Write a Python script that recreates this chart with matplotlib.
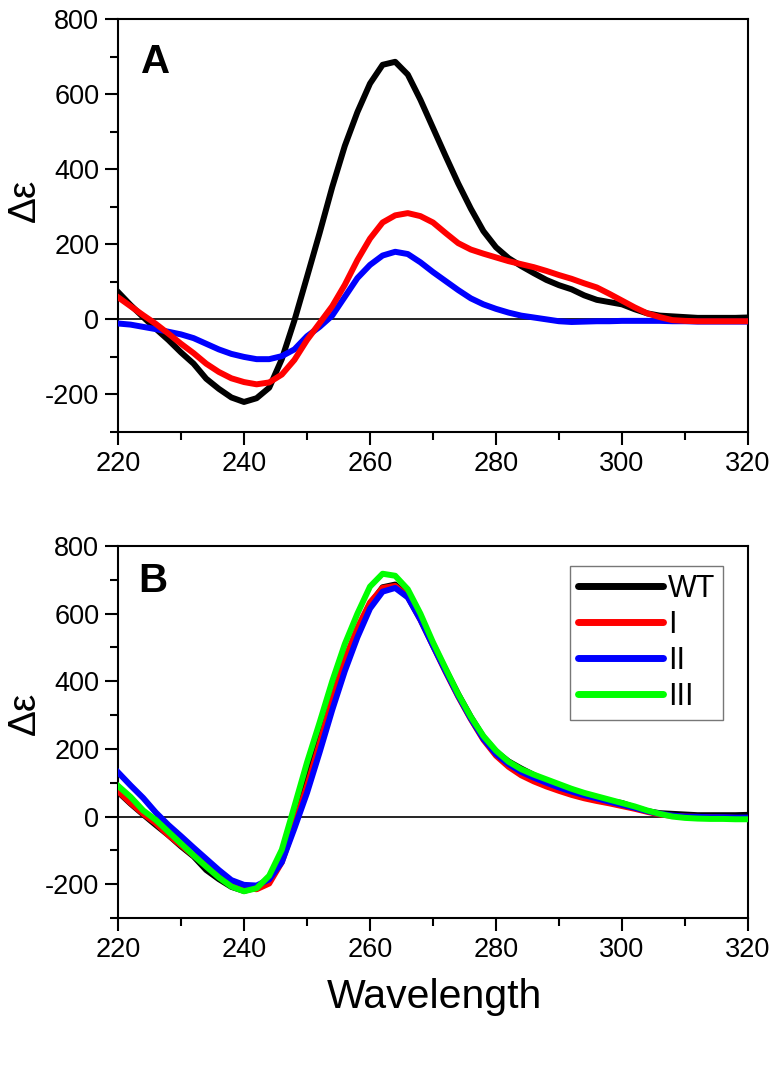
import matplotlib
matplotlib.use("Agg")
import matplotlib.pyplot as plt
from matplotlib.ticker import MultipleLocator

plt.rcParams['font.family'] = ['Liberation Sans', 'DejaVu Sans']
plt.rcParams['axes.unicode_minus'] = False

wavelength = list(range(220, 322, 2))

wt = [73, 38, 6, -25, -55, -88, -118, -158, -185, -208,
      -220, -210, -182, -106, -3, 113, 230, 352, 462, 552,
      628, 678, 686, 652, 585, 510, 435, 362, 295, 235,
      192, 163, 142, 123, 105, 91, 80, 64, 52, 46,
      40, 27, 16, 10, 8, 6, 4, 4, 4, 4, 5]

mut_I_A = [59, 35, 11, -12, -38, -65, -90, -118, -140, -157,
           -167, -173, -168, -147, -108, -55, -10, 35, 92, 158,
           215, 258, 277, 283, 275, 258, 230, 203, 186, 175,
           165, 155, 147, 139, 129, 118, 108, 96, 85, 68,
           50, 32, 16, 6, -2, -4, -5, -5, -5, -5, -5]

mut_II_A = [-11, -14, -20, -26, -33, -40, -50, -65, -80, -92,
            -100, -106, -106, -98, -80, -45, -20, 10, 60, 110,
            145, 170, 180, 174, 152, 126, 102, 78, 56, 40,
            28, 18, 10, 5, 0, -5, -7, -6, -5, -5,
            -4, -4, -4, -4, -5, -5, -6, -6, -6, -6, -6]

mut_I_B = [75, 40, 8, -20, -55, -85, -115, -145, -172, -198,
           -210, -215, -198, -135, -25, 90, 215, 345, 462, 558,
           633, 676, 682, 650, 582, 505, 428, 355, 288, 227,
           180, 147, 122, 104, 89, 76, 64, 54, 46, 39,
           31, 23, 14, 6, 2, 0, -1, -2, -3, -4, -5]

mut_II_B = [131, 92, 55, 12, -25, -58, -92, -125, -158, -188,
            -202, -204, -186, -135, -35, 70, 190, 315, 430, 530,
            615, 665, 676, 648, 582, 505, 430, 357, 290, 230,
            185, 155, 132, 115, 100, 86, 74, 63, 54, 44,
            35, 26, 16, 8, 3, 0, -1, -2, -2, -3, -3]

mut_III_B = [91, 58, 18, -10, -45, -80, -115, -148, -180, -207,
             -221, -212, -175, -98, 30, 160, 278, 400, 510, 600,
             680, 718, 712, 672, 600, 515, 438, 362, 295, 238,
             195, 162, 140, 124, 110, 96, 82, 70, 60, 50,
             40, 30, 18, 8, 0, -4, -6, -7, -7, -8, -8]

fig = plt.figure(figsize=(7.78, 10.8), dpi=100)
axA = fig.add_axes([118/778, 1-432/1080, 630/778, 413/1080])
axB = fig.add_axes([118/778, 1-918/1080, 630/778, 372/1080])

lw = 4.3


def style(ax, ylab_y):
    ax.set_xlim(220, 320)
    ax.set_ylim(-300, 800)
    ax.xaxis.set_major_locator(MultipleLocator(20))
    ax.xaxis.set_minor_locator(MultipleLocator(10))
    ax.yaxis.set_major_locator(MultipleLocator(200))
    ax.yaxis.set_minor_locator(MultipleLocator(100))
    ax.tick_params(which='both', direction='out', top=False, right=False, width=1.5, labelsize=19.5)
    ax.tick_params(which='major', length=9.5, pad=4)
    ax.tick_params(which='minor', length=5.5)
    for s in ax.spines.values():
        s.set_linewidth(1.5)
    ax.axhline(0, color='black', lw=1.2, zorder=1)
    ax.set_ylabel('Δε', fontsize=28, va='center')
    ax.yaxis.set_label_coords(-0.148, ylab_y)


style(axA, 0.56)
axA.plot(wavelength, wt, color='black', lw=lw, solid_joinstyle='round', zorder=3)
axA.plot(wavelength, mut_II_A, color='#0000FF', lw=lw, solid_joinstyle='round', zorder=3)
axA.plot(wavelength, mut_I_A, color='#FF0000', lw=lw, solid_joinstyle='round', zorder=3)
axA.text(0.037, 0.895, 'A', transform=axA.transAxes, fontsize=29, fontweight='bold', va='center', ha='left')

style(axB, 0.55)
axB.plot(wavelength, wt, color='black', lw=lw, solid_joinstyle='round', label='WT', zorder=3)
axB.plot(wavelength, mut_I_B, color='#FF0000', lw=lw, solid_joinstyle='round', label='I', zorder=3)
axB.plot(wavelength, mut_II_B, color='#0000FF', lw=lw, solid_joinstyle='round', label='II', zorder=3)
axB.plot(wavelength, mut_III_B, color='#00FF00', lw=lw, solid_joinstyle='round', label='III', zorder=3)
axB.text(0.032, 0.905, 'B', transform=axB.transAxes, fontsize=29, fontweight='bold', va='center', ha='left')
leg = axB.legend(loc='upper right', bbox_to_anchor=(0.960, 0.946), borderaxespad=0,
                 fontsize=22, frameon=True, fancybox=False, edgecolor='#555555',
                 handlelength=2.8, handletextpad=0.15, labelspacing=0.2, borderpad=0.25)
leg.get_frame().set_linewidth(1.0)
for h in leg.get_lines():
    h.set_linewidth(5.0)
    h.set_solid_capstyle('round')
axB.set_xlabel('Wavelength', fontsize=29.5, va='center')
axB.xaxis.set_label_coords(0.502, -0.212)

fig.savefig('out.png', dpi=100)
